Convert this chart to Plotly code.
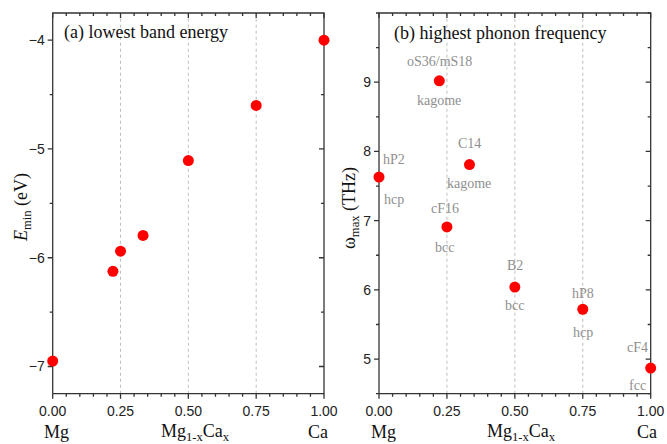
import plotly.graph_objects as go

# ---- data ----
x_a = [0.0, 0.222, 0.25, 0.333, 0.5, 0.75, 1.0]
e_min = [-6.95, -6.125, -5.94, -5.795, -5.107, -4.60, -4.0]

x_b = [0.0, 0.222, 0.333, 0.25, 0.5, 0.75, 1.0]
w_max = [7.63, 9.02, 7.81, 6.91, 6.04, 5.72, 4.87]
labels_top = ["hP2", "oS36/mS18", "C14", "cF16", "B2", "hP8", "cF4"]
labels_bot = ["hcp", "kagome", "kagome", "bcc", "bcc", "hcp", "fcc"]
lab_dx = [15, 0, 0, -2, 0, 0, -13]
lab_dy_top = [18, 19, 21, 18, 22, 16, 21]
lab_dy_bot = [-22, -20, -19, -21, -18, -23, -17]

x_ticks = [0.0, 0.25, 0.5, 0.75, 1.0]
x_ticktext = ["0.00", "0.25", "0.50", "0.75", "1.00"]
x_grid = [0.25, 0.5, 0.75]
x_minor = [round(0.05 * i, 2) for i in range(21)]
y_ticks_a = [-7, -6, -5, -4]
y_minor_a = [-7.0, -6.5, -6.0, -5.5, -5.0, -4.5, -4.0]
y_ticks_b = [5, 6, 7, 8, 9]
y_minor_b = [4.5, 5.0, 5.5, 6.0, 6.5, 7.0, 7.5, 8.0, 8.5, 9.0, 9.5, 10.0]

W, H = 667, 444
axc = "#333333"
serif = "Liberation Serif"
sans = "Liberation Sans"

# frame position in px
fa = (52.7, 324.0)
fb = (379.0, 650.7)
fy = (13.0, 393.7)
PAD = 7  # plot area extends PAD px beyond the frame so ticks/frame are inside it
rng_a = [-7.25, -3.75]
rng_b = [4.5, 10.0]

def ext_dom_x(f):
    return [(f[0] - PAD) / W, (f[1] + PAD) / W]

dom_y = [1 - (fy[1] + PAD) / H, 1 - (fy[0] - PAD) / H]
pw = fa[1] - fa[0]
ph = fy[1] - fy[0]

def ext_rng_x():
    u = 1.0 / pw
    return [-PAD * u, 1 + PAD * u]

def ext_rng_y(r):
    u = (r[1] - r[0]) / ph
    return [r[0] - PAD * u, r[1] + PAD * u]

fig = go.Figure()

def frame_traces(xa, ya, rng, ymaj, ymin_):
    ux = 1.0 / pw
    uy = (rng[1] - rng[0]) / ph
    y0, y1 = rng
    gx, gy = [], []
    for xv in x_grid:
        gx += [xv, xv, None]
        gy += [y0, y1, None]
    grid = go.Scatter(x=gx, y=gy, mode="lines", xaxis=xa, yaxis=ya,
                      line=dict(color="#bdbdbd", width=1, dash="dot"),
                      showlegend=False, hoverinfo="skip")
    xs = [0, 1, 1, 0, 0, None]
    ys = [y0, y0, y1, y1, y0, None]
    for xv in x_minor:
        L = 5 if xv in x_ticks else 3
        xs += [xv, xv, None, xv, xv, None]
        ys += [y0, y0 - L * uy, None, y1, y1 - L * uy, None]
    for yv in sorted(set(ymin_) | set(ymaj)):
        L = 5 if yv in ymaj else 3
        xs += [0, -L * ux, None, 1, 1 - L * ux, None]
        ys += [yv, yv, None, yv, yv, None]
    frame = go.Scatter(x=xs, y=ys, mode="lines", xaxis=xa, yaxis=ya, cliponaxis=False,
                       line=dict(color=axc, width=1.3), showlegend=False, hoverinfo="skip")
    return [grid, frame]

for tr in frame_traces("x", "y", rng_a, y_ticks_a, y_minor_a):
    fig.add_trace(tr)
for tr in frame_traces("x2", "y2", rng_b, y_ticks_b, y_minor_b):
    fig.add_trace(tr)

fig.add_trace(go.Scatter(x=x_a, y=e_min, mode="markers", xaxis="x", yaxis="y",
                         marker=dict(color="#ff0000", size=11), cliponaxis=False,
                         showlegend=False, hoverinfo="skip"))
fig.add_trace(go.Scatter(x=x_b, y=w_max, mode="markers", xaxis="x2", yaxis="y2",
                         marker=dict(color="#ff0000", size=11), cliponaxis=False,
                         showlegend=False, hoverinfo="skip"))

def xax(domain, anchor):
    return dict(domain=domain, anchor=anchor, range=ext_rng_x(), showline=False,
                ticks="", tickvals=x_ticks, ticktext=x_ticktext, ticklabelstandoff=0,
                tickfont=dict(family=sans, size=14, color="#222"),
                showgrid=False, zeroline=False)

def yax(anchor, rng, tv):
    return dict(domain=dom_y, anchor=anchor, range=ext_rng_y(rng), showline=False,
                ticks="", tickvals=tv, ticklabelstandoff=0,
                tickfont=dict(family=sans, size=14, color="#222"),
                showgrid=False, zeroline=False)

fig.update_layout(
    width=W, height=H, margin=dict(l=0, r=0, t=0, b=0, autoexpand=False),
    paper_bgcolor="white", plot_bgcolor="white",
    xaxis=xax(ext_dom_x(fa), "y"),
    yaxis=yax("x", rng_a, y_ticks_a),
    xaxis2=xax(ext_dom_x(fb), "y2"),
    yaxis2=yax("x2", rng_b, y_ticks_b),
)

ann = []
def pann(text, px, py, size, color="#111", family=serif, angle=0):
    ann.append(dict(text=text, x=px / W, y=1 - py / H, xref="paper", yref="paper",
                    showarrow=False, font=dict(family=family, size=size, color=color),
                    textangle=angle, xanchor="center", yanchor="middle"))

ann.append(dict(text="(a) lowest band energy", x=62 / W, y=1 - 32 / H, xref="paper",
                yref="paper", xanchor="left", yanchor="middle", showarrow=False,
                font=dict(family=serif, size=18, color="#111")))
ann.append(dict(text="(b) highest phonon frequency", x=392 / W, y=1 - 33 / H, xref="paper",
                yref="paper", xanchor="left", yanchor="middle", showarrow=False,
                font=dict(family=serif, size=18, color="#111")))
pann("<i>E</i><sub>min</sub> (eV)", 22, 208, 18, angle=-90)
pann("ω<sub>max</sub> (THz)", 350, 208, 18, angle=-90)
for mg, mid, ca in [(56, 195, 318), (383, 521, 647)]:
    pann("Mg", mg, 432, 18)
    pann("Mg<sub>1-x</sub>Ca<sub>x</sub>", mid, 432, 18)
    pann("Ca", ca, 432, 18)

gray = "#8f8f8f"
for xv, yv, t, b, dx, dt, db in zip(x_b, w_max, labels_top, labels_bot, lab_dx,
                                    lab_dy_top, lab_dy_bot):
    ann.append(dict(text=t, x=xv, y=yv, xref="x2", yref="y2", showarrow=False,
                    xshift=dx, yshift=dt, font=dict(family=serif, size=14, color=gray)))
    ann.append(dict(text=b, x=xv, y=yv, xref="x2", yref="y2", showarrow=False,
                    xshift=dx, yshift=db, font=dict(family=serif, size=14, color=gray)))

fig.update_layout(annotations=ann)
fig.write_html("out.html")
